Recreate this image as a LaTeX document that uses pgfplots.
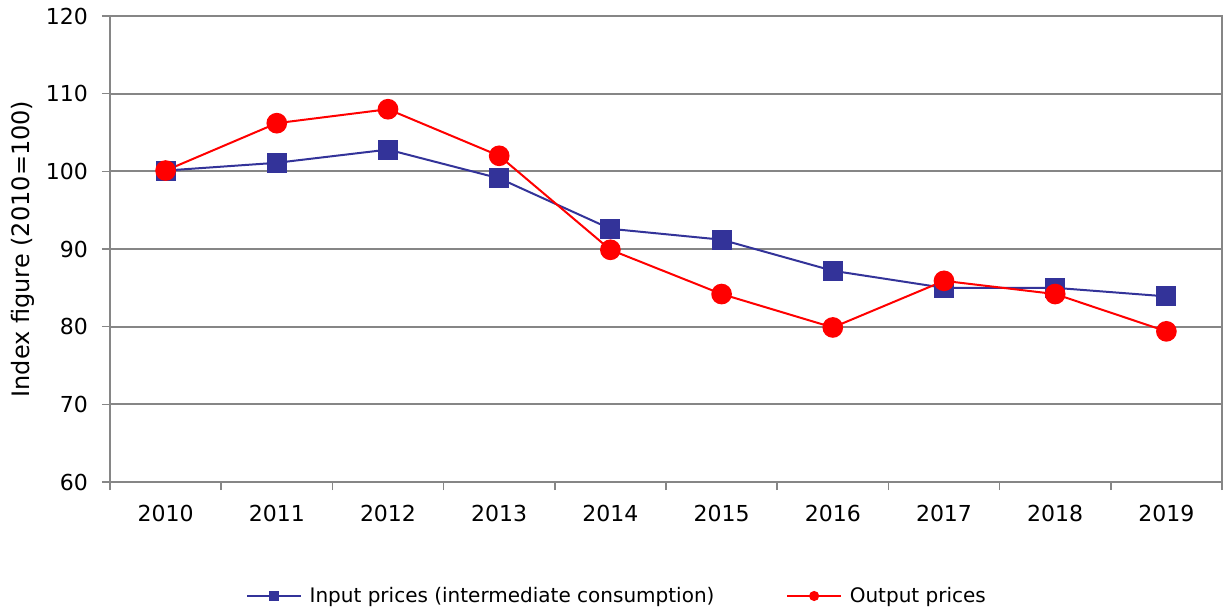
\documentclass[border=0pt]{standalone}
\usepackage{fontspec}
\setmainfont{DejaVu Sans}
\usepackage{pgfplots}
\pgfplotsset{compat=1.18}
\definecolor{inblue}{HTML}{333399}
\definecolor{outred}{HTML}{FF0000}
\definecolor{gridgray}{HTML}{868686}
\begin{document}
\begin{tikzpicture}
\path[use as bounding box] (0,0) rectangle (921.75pt,459pt);
\begin{axis}[
  at={(82.5pt,97.5pt)}, anchor=south west,
  scale only axis, width=834pt, height=349.5pt,
  xmin=-0.5, xmax=9.5, ymin=60, ymax=120,
  xtick={0,...,9},
  xticklabels={2010,2011,2012,2013,2014,2015,2016,2017,2018,2019},
  minor xtick={-0.5,0.5,...,9.5},
  every major x tick/.style={draw=none},
  ytick={60,70,...,120},
  xtick pos=bottom, ytick pos=left,
  tick align=outside,
  major tick length=6pt, minor tick length=6pt,
  tick style={gridgray, line width=1.2pt},
  axis line style={gridgray, line width=1.5pt},
  ymajorgrids, grid style={gridgray, line width=1.5pt},
  /pgf/number format/assume math mode=true,
  ticklabel style={font=\fontsize{16.5}{20}\selectfont},
  xticklabel style={yshift=-8pt},
  yticklabel style={xshift=-7pt},
  ylabel={Index figure (2010=100)},
  ylabel style={font=\fontsize{18}{22}\selectfont, yshift=2pt},
  legend columns=2,
  legend style={at={(0.6175/1.112-0.11/1.112,-0.2446)}, anchor=center, draw=none, fill=none,
    font=\fontsize{15}{18}\selectfont,
    /tikz/every even column/.append style={column sep=52pt}},
  legend image code/.code={
    \draw[#1, mark=none] (0pt,0pt) -- (40pt,0pt);
    \draw[#1, mark size=3pt] plot coordinates {(20pt,0pt)};
    \path (44pt,0pt);
  },
  clip=false,
]
\addplot[inblue, line width=1.5pt, mark=square*, mark size=6.75pt, mark options={solid}] coordinates {
(0,100.1) (1,101.1) (2,102.8) (3,99.1) (4,92.6) (5,91.2) (6,87.2) (7,85.0) (8,85.0) (9,83.9)};
\addlegendentry{Input prices (intermediate consumption)}
\addplot[outred, line width=1.5pt, mark=*, mark size=7pt] coordinates {
(0,100.1) (1,106.2) (2,108.0) (3,102.0) (4,89.9) (5,84.2) (6,79.9) (7,85.9) (8,84.2) (9,79.4)};
\addlegendentry{Output prices}
\end{axis}
\end{tikzpicture}
\end{document}
